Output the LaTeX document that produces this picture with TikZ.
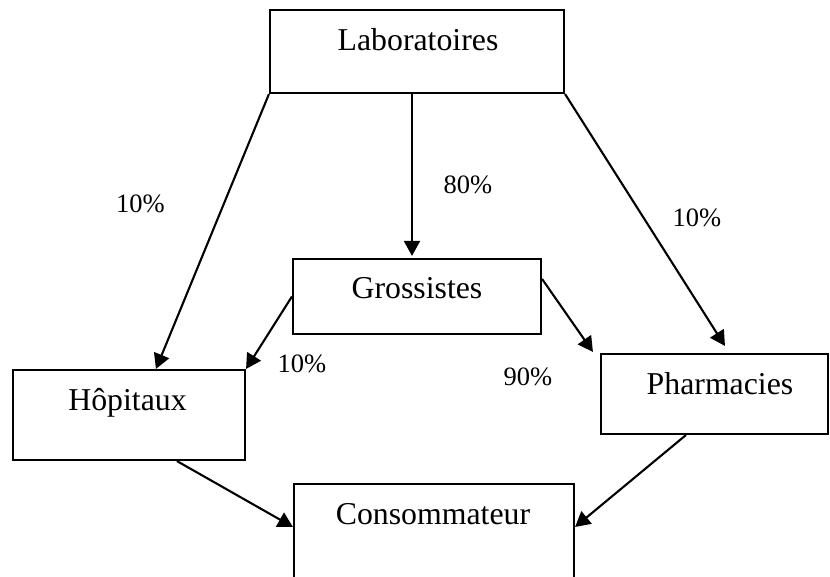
\documentclass[tikz,border=0pt]{standalone}
\usepackage{fontspec}
\setmainfont{Liberation Serif}
\usetikzlibrary{arrows.meta}
\begin{document}
\begin{tikzpicture}[x=1pt,y=-1pt,
  box/.style={draw,rectangle,line width=2.1pt,inner sep=0pt},
  title/.style={anchor=base,inner sep=0pt,font=\fontsize{31.8}{36}\selectfont},
  pct/.style={anchor=base,inner sep=0pt,font=\fontsize{26.5}{30}\selectfont},
  flow/.style={line width=2.1pt,-{Triangle[length=15pt,width=16pt]}}]
\useasboundingbox (0,0) rectangle (830,577);
\clip (0,0) rectangle (830,577);
% boxes
\node[box,minimum width=294pt,minimum height=83pt] (lab) at (417,51.5) {};
\node[box,minimum width=248pt,minimum height=75pt] (gro) at (417,296.5) {};
\node[box,minimum width=232pt,minimum height=90pt] (hop) at (129,415) {};
\node[box,minimum width=227pt,minimum height=80pt] (pha) at (714.5,394) {};
\node[box,minimum width=280pt,minimum height=140pt] (con) at (434,554) {};
% box titles
\node[title] (labt) at (418,51) {Laboratoires};
\node[title] (grot) at (417,299) {Grossistes};
\node[title] (hopt) at (127.5,410) {Hôpitaux};
\node[title] (phat) at (720,394) {Pharmacies};
\node[title] (cont) at (433,524) {Consommateur};
% flows
\coordinate (hopin) at ([xshift=144pt]hop.north west);
\coordinate (phain) at ([xshift=125pt,yshift=7pt]pha.north west);
\coordinate (labmid) at ([xshift=-5pt]lab.south);
\coordinate (gromid) at ([xshift=-5pt,yshift=2pt]gro.north);
\coordinate (grol) at (gro.west);
\coordinate (gror) at ([yshift=-21pt]gro.north east);
\coordinate (phaw) at ([xshift=-7pt,yshift=1pt]pha.north west);
\coordinate (hopout) at ([xshift=165pt]hop.south west);
\coordinate (phaout) at ([xshift=86pt]pha.south west);
\coordinate (conl) at ([yshift=27pt]con.west);
\coordinate (conr) at ([yshift=27pt]con.east);
\draw[flow] (lab.south west) -- (hopin);
\draw[flow] (labmid) -- (gromid);
\draw[flow] (lab.south east) -- (phain);
\draw[flow] (grol) -- (hop.north east);
\draw[flow] (gror) -- (phaw);
\draw[flow] (hopout) -- (conl);
\draw[flow] (phaout) -- (conr);
% shares
\node[pct] (p1) at (140.5,213) {10\%};
\node[pct] (p2) at (468,194) {80\%};
\node[pct] (p3) at (697,227) {10\%};
\node[pct] (p4) at (302,372) {10\%};
\node[pct] (p5) at (528,385) {90\%};
\end{tikzpicture}
\end{document}
